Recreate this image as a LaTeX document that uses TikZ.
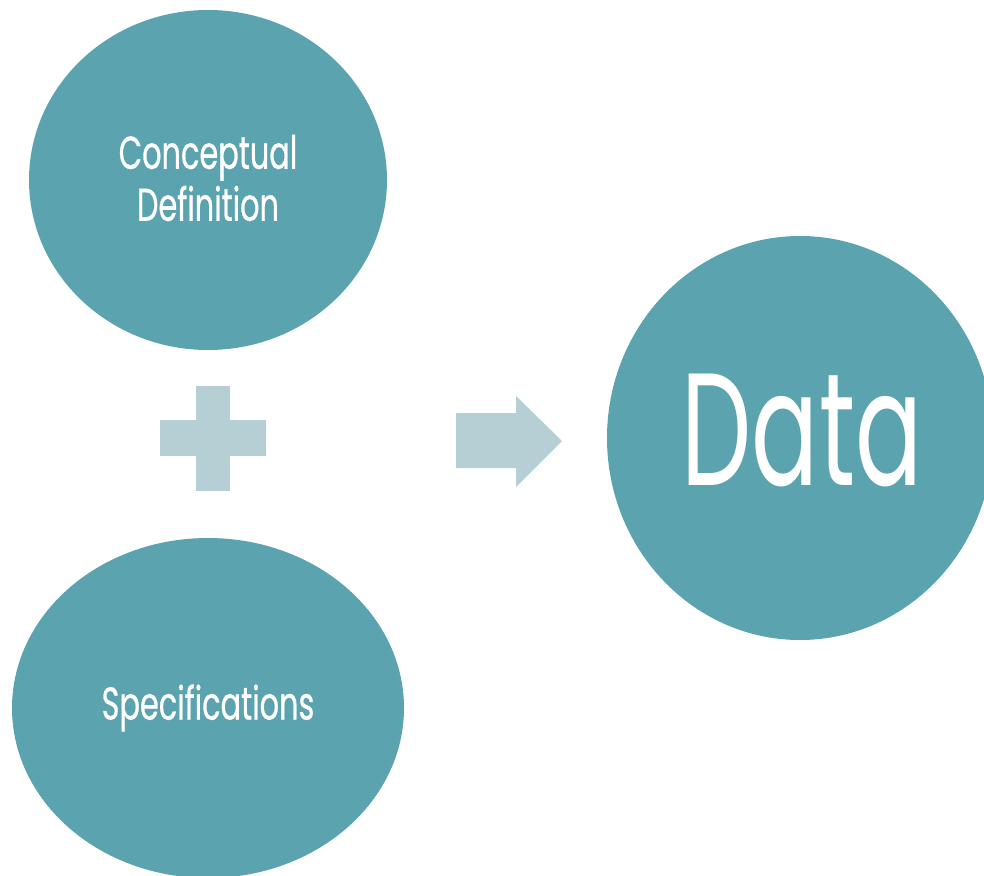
\documentclass[tikz,border=0pt]{standalone}
\usepackage{fontspec}
\setmainfont{Poppins}[FakeStretch=0.62]
\newfontfamily\smallfnt{Poppins}[FakeStretch=0.66, FakeBold=0.6]
\definecolor{teal1}{HTML}{5BA3AF}
\definecolor{pale}{HTML}{B5CFD5}
\begin{document}
\begin{tikzpicture}[x=1pt,y=-1pt,
  lbl/.style={text=white, align=center, inner sep=0pt},
  smalltxt/.style={lbl, font=\smallfnt\fontsize{46}{52}\selectfont}]
\useasboundingbox (0,0) rectangle (984,875);
\clip (0,0) rectangle (984,875);
\fill[teal1] (208,180) ellipse [x radius=179, y radius=170];
\node[smalltxt] (cd) at (208,178) {Conceptual\\Definition};
\fill[teal1] (208,708) ellipse [x radius=196, y radius=170];
\node[smalltxt] (sp) at (208,708) {Specifications};
\fill[teal1] (800,438) ellipse [x radius=193, y radius=202];
\node[lbl, font=\fontsize{160}{180}\selectfont] (da) at (802,430) {Data};
% plus
\fill[pale] (196,386) rectangle (230,491);
\fill[pale] (160,420) rectangle (266,456);
\coordinate (plus) at (213,438);
% arrow
\fill[pale] (456,413) -- (516,413) -- (516,396) -- (562,441) -- (516,487) -- (516,468) -- (456,468) -- cycle;
\coordinate (arr) at (509,441);
\end{tikzpicture}
\end{document}
